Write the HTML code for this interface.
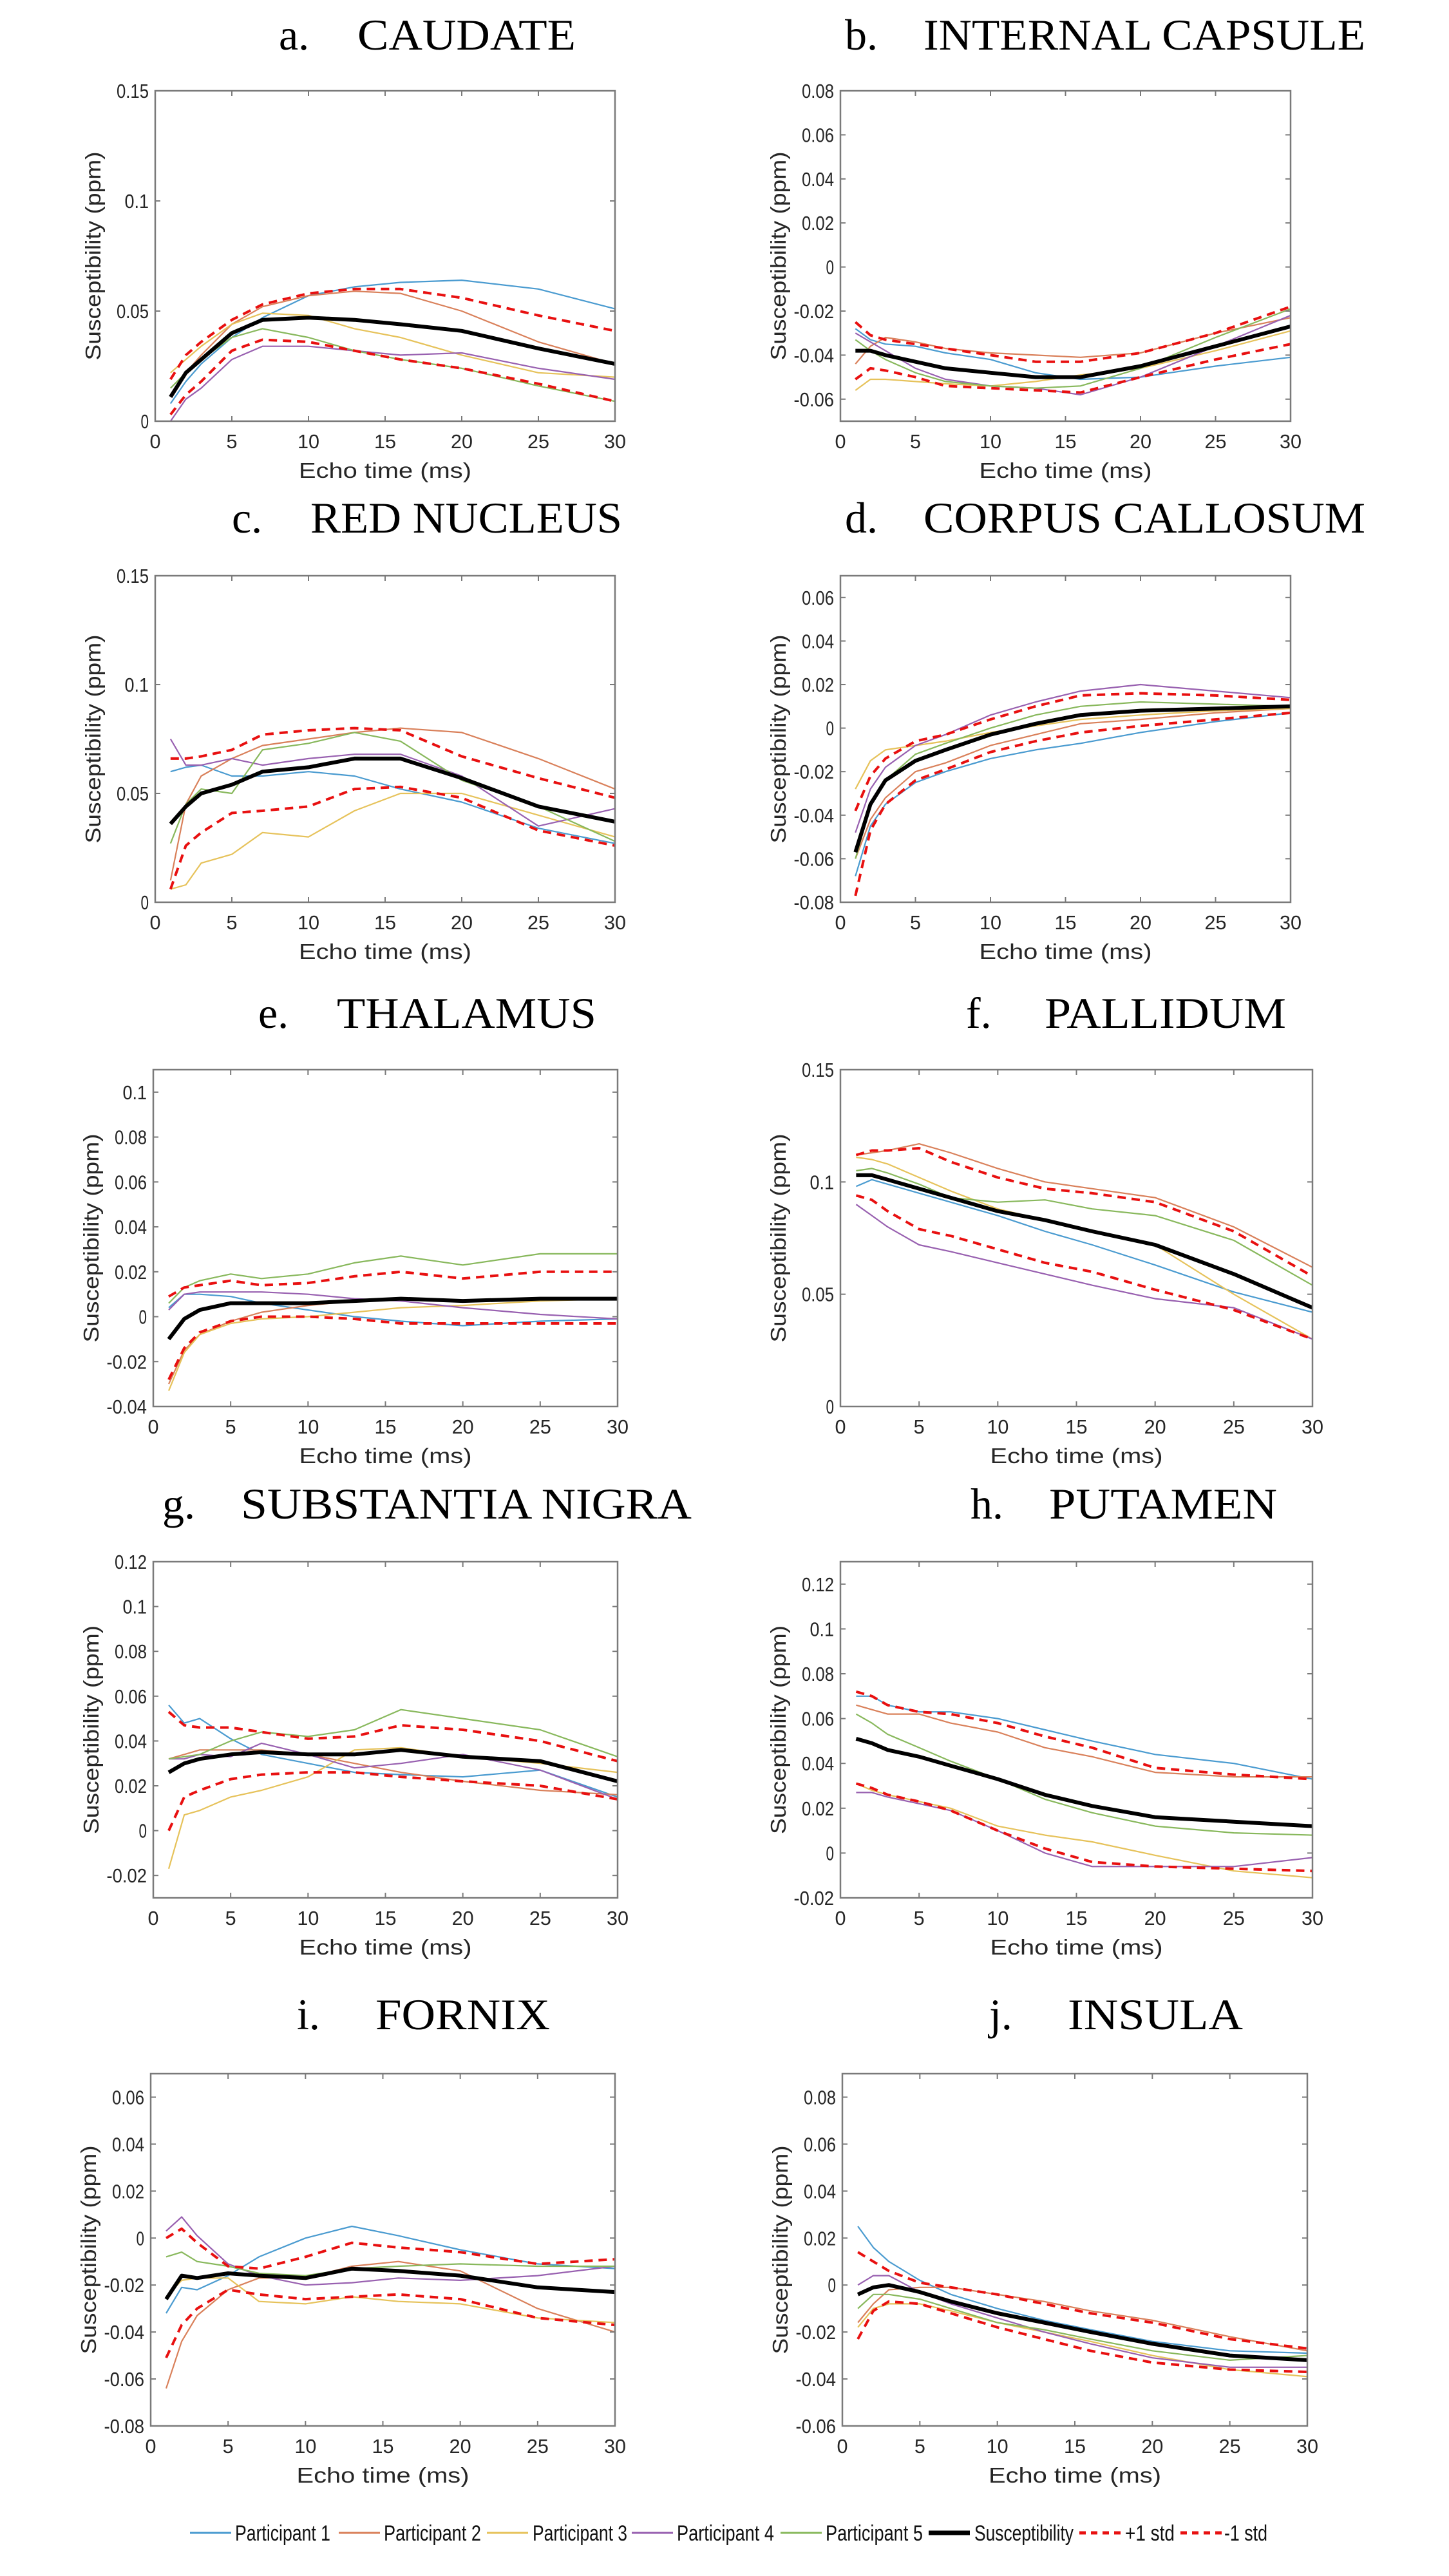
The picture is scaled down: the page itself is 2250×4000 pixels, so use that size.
<!DOCTYPE html>
<html><head><meta charset="utf-8"><style>
html,body{margin:0;padding:0;background:#fff;}
svg{display:block;}
</style></head><body>
<svg id="fig" xmlns="http://www.w3.org/2000/svg" width="2250" height="4000" viewBox="0 0 2250 4000">
<rect width="2250" height="4000" fill="#fff"/>
</svg>
<script>
// ---- shared data ----
const echoTimes = [1,2,3,5,7,10,13,16,20,25,30];
const xTicks = [0,5,10,15,20,25,30];
const seriesNames = ["Participant 1","Participant 2","Participant 3","Participant 4","Participant 5","Susceptibility","+1 std","-1 std"];

const caudateP1 = [0.008,0.018,0.026,0.038,0.047,0.057,0.061,0.063,0.064,0.060,0.051];
const caudateP2 = [0.012,0.022,0.030,0.044,0.052,0.057,0.059,0.058,0.050,0.036,0.026];
const caudateP3 = [0.022,0.028,0.034,0.044,0.049,0.048,0.042,0.038,0.030,0.022,0.020];
const caudateP4 = [0.000,0.010,0.015,0.028,0.034,0.034,0.032,0.030,0.031,0.024,0.019];
const caudateP5 = [0.015,0.022,0.028,0.038,0.042,0.038,0.032,0.028,0.024,0.016,0.009];
const caudateMean = [0.011,0.022,0.028,0.040,0.046,0.047,0.046,0.044,0.041,0.033,0.026];
const caudatePlus = [0.019,0.030,0.036,0.046,0.053,0.058,0.060,0.060,0.056,0.048,0.041];
const caudateMinus = [0.003,0.012,0.018,0.032,0.037,0.036,0.032,0.028,0.024,0.017,0.009];
const caudateTicks = [0,0.05,0.1,0.15];

const icP1 = [-0.028,-0.033,-0.035,-0.036,-0.039,-0.042,-0.048,-0.051,-0.050,-0.045,-0.041];
const icP2 = [-0.044,-0.036,-0.032,-0.034,-0.037,-0.039,-0.040,-0.041,-0.039,-0.030,-0.023];
const icP3 = [-0.056,-0.051,-0.051,-0.052,-0.053,-0.054,-0.052,-0.049,-0.046,-0.038,-0.029];
const icP4 = [-0.030,-0.034,-0.038,-0.046,-0.051,-0.054,-0.055,-0.058,-0.050,-0.036,-0.022];
const icP5 = [-0.033,-0.038,-0.042,-0.048,-0.052,-0.054,-0.055,-0.054,-0.046,-0.032,-0.019];
const icMean = [-0.038,-0.038,-0.040,-0.043,-0.046,-0.048,-0.050,-0.050,-0.045,-0.036,-0.027];
const icPlus = [-0.025,-0.031,-0.033,-0.035,-0.037,-0.040,-0.043,-0.043,-0.039,-0.030,-0.018];
const icMinus = [-0.051,-0.046,-0.047,-0.050,-0.054,-0.055,-0.056,-0.057,-0.050,-0.042,-0.035];
const icTicks = [-0.06,-0.04,-0.02,0,0.02,0.04,0.06,0.08];

const rnP1 = [0.060,0.062,0.063,0.058,0.058,0.060,0.058,0.052,0.046,0.034,0.027];
const rnP2 = [0.010,0.045,0.058,0.066,0.072,0.075,0.078,0.080,0.078,0.066,0.052];
const rnP3 = [0.006,0.008,0.018,0.022,0.032,0.030,0.042,0.050,0.050,0.040,0.030];
const rnP4 = [0.075,0.063,0.063,0.066,0.063,0.066,0.068,0.068,0.058,0.035,0.043];
const rnP5 = [0.027,0.045,0.052,0.050,0.070,0.073,0.078,0.074,0.056,0.044,0.028];
const rnMean = [0.036,0.044,0.050,0.054,0.060,0.062,0.066,0.066,0.057,0.044,0.037];
const rnPlus = [0.066,0.066,0.067,0.070,0.077,0.079,0.080,0.079,0.067,0.057,0.048];
const rnMinus = [0.006,0.026,0.032,0.041,0.042,0.044,0.052,0.053,0.048,0.033,0.026];
const rnTicks = [0,0.05,0.1,0.15];

const ccP1 = [-0.068,-0.045,-0.035,-0.025,-0.020,-0.014,-0.010,-0.007,-0.002,0.003,0.007];
const ccP2 = [-0.060,-0.042,-0.032,-0.020,-0.016,-0.008,-0.003,0.002,0.004,0.007,0.009];
const ccP3 = [-0.028,-0.015,-0.010,-0.008,-0.006,-0.002,0.001,0.004,0.006,0.008,0.009];
const ccP4 = [-0.048,-0.028,-0.018,-0.008,-0.003,0.006,0.012,0.017,0.020,0.017,0.014];
const ccP5 = [-0.060,-0.036,-0.024,-0.012,-0.007,0.000,0.006,0.010,0.012,0.011,0.010];
const ccMean = [-0.057,-0.035,-0.024,-0.015,-0.010,-0.003,0.002,0.006,0.008,0.009,0.010];
const ccPlus = [-0.038,-0.022,-0.014,-0.006,-0.003,0.004,0.010,0.015,0.016,0.015,0.013];
const ccMinus = [-0.077,-0.047,-0.035,-0.024,-0.019,-0.011,-0.006,-0.002,0.001,0.004,0.007];
const ccTicks = [-0.08,-0.06,-0.04,-0.02,0,0.02,0.04,0.06];

const thP1 = [0.004,0.010,0.010,0.009,0.006,0.003,0.000,-0.002,-0.004,-0.002,-0.001];
const thP2 = [-0.030,-0.015,-0.008,-0.002,0.002,0.005,0.007,0.008,0.007,0.008,0.008];
const thP3 = [-0.033,-0.016,-0.008,-0.003,-0.001,0.000,0.002,0.004,0.005,0.007,0.008];
const thP4 = [0.003,0.010,0.011,0.011,0.011,0.010,0.008,0.007,0.004,0.001,-0.001];
const thP5 = [0.006,0.013,0.016,0.019,0.017,0.019,0.024,0.027,0.023,0.028,0.028];
const thMean = [-0.010,-0.001,0.003,0.006,0.006,0.006,0.007,0.008,0.007,0.008,0.008];
const thPlus = [0.009,0.013,0.014,0.016,0.014,0.015,0.018,0.020,0.017,0.020,0.020];
const thMinus = [-0.028,-0.014,-0.007,-0.002,0.000,0.000,-0.001,-0.003,-0.003,-0.003,-0.003];
const thTicks = [-0.04,-0.02,0,0.02,0.04,0.06,0.08,0.1];

const paP1 = [0.098,0.101,0.099,0.095,0.091,0.085,0.078,0.072,0.063,0.051,0.042];
const paP2 = [0.112,0.113,0.114,0.117,0.113,0.106,0.100,0.097,0.093,0.080,0.062];
const paP3 = [0.111,0.110,0.108,0.102,0.096,0.088,0.083,0.078,0.072,0.050,0.030];
const paP4 = [0.090,0.085,0.080,0.072,0.069,0.064,0.059,0.054,0.048,0.044,0.030];
const paP5 = [0.105,0.106,0.104,0.099,0.093,0.091,0.092,0.088,0.085,0.074,0.054];
const paMean = [0.103,0.103,0.101,0.097,0.093,0.087,0.083,0.078,0.072,0.059,0.044];
const paPlus = [0.112,0.114,0.114,0.115,0.109,0.102,0.097,0.095,0.091,0.078,0.058];
const paMinus = [0.094,0.092,0.087,0.079,0.076,0.070,0.064,0.060,0.052,0.043,0.030];
const paTicks = [0,0.05,0.1,0.15];

const snP1 = [0.056,0.048,0.050,0.041,0.034,0.030,0.026,0.025,0.024,0.027,0.015];
const snP2 = [0.032,0.034,0.036,0.036,0.036,0.034,0.030,0.026,0.022,0.018,0.016];
const snP3 = [-0.017,0.007,0.009,0.015,0.018,0.024,0.036,0.037,0.033,0.030,0.026];
const snP4 = [0.032,0.032,0.034,0.033,0.039,0.034,0.028,0.030,0.034,0.027,0.014];
const snP5 = [0.032,0.033,0.034,0.040,0.044,0.042,0.045,0.054,0.050,0.045,0.033];
const snMean = [0.026,0.030,0.032,0.034,0.035,0.034,0.034,0.036,0.033,0.031,0.022];
const snPlus = [0.053,0.047,0.046,0.046,0.044,0.041,0.042,0.047,0.045,0.040,0.031];
const snMinus = [0.000,0.015,0.018,0.023,0.025,0.026,0.026,0.024,0.022,0.020,0.014];
const snTicks = [-0.02,0,0.02,0.04,0.06,0.08,0.1,0.12];

const puP1 = [0.070,0.070,0.066,0.063,0.063,0.060,0.055,0.050,0.044,0.040,0.033];
const puP2 = [0.066,0.064,0.062,0.062,0.058,0.054,0.047,0.043,0.036,0.034,0.034];
const puP3 = [0.031,0.028,0.026,0.023,0.020,0.012,0.008,0.005,-0.001,-0.008,-0.011];
const puP4 = [0.027,0.027,0.025,0.022,0.019,0.010,0.000,-0.006,-0.006,-0.006,-0.002];
const puP5 = [0.062,0.058,0.053,0.047,0.041,0.033,0.024,0.018,0.012,0.009,0.008];
const puMean = [0.051,0.049,0.046,0.043,0.039,0.033,0.026,0.021,0.016,0.014,0.012];
const puPlus = [0.072,0.070,0.066,0.063,0.062,0.058,0.052,0.047,0.038,0.035,0.033];
const puMinus = [0.031,0.029,0.026,0.023,0.019,0.010,0.002,-0.004,-0.006,-0.007,-0.008];
const puTicks = [-0.02,0,0.02,0.04,0.06,0.08,0.1,0.12];

const fxP1 = [-0.032,-0.021,-0.022,-0.016,-0.008,0.000,0.005,0.001,-0.005,-0.011,-0.013];
const fxP2 = [-0.064,-0.044,-0.033,-0.022,-0.017,-0.017,-0.012,-0.010,-0.014,-0.030,-0.040];
const fxP3 = [-0.025,-0.018,-0.017,-0.017,-0.027,-0.028,-0.025,-0.027,-0.028,-0.034,-0.036];
const fxP4 = [0.003,0.009,0.001,-0.011,-0.016,-0.020,-0.019,-0.017,-0.018,-0.016,-0.012];
const fxP5 = [-0.008,-0.006,-0.010,-0.012,-0.015,-0.016,-0.013,-0.012,-0.011,-0.012,-0.012];
const fxMean = [-0.026,-0.016,-0.017,-0.015,-0.016,-0.017,-0.013,-0.014,-0.016,-0.021,-0.023];
const fxPlus = [0.000,0.004,-0.002,-0.012,-0.013,-0.008,-0.002,-0.004,-0.006,-0.011,-0.009];
const fxMinus = [-0.051,-0.037,-0.030,-0.022,-0.024,-0.026,-0.025,-0.024,-0.026,-0.034,-0.037];
const fxTicks = [-0.08,-0.06,-0.04,-0.02,0,0.02,0.04,0.06];

const inP1 = [0.025,0.016,0.010,0.002,-0.004,-0.010,-0.015,-0.019,-0.024,-0.028,-0.029];
const inP2 = [-0.016,-0.008,-0.002,-0.001,-0.001,-0.004,-0.007,-0.011,-0.015,-0.022,-0.028];
const inP3 = [-0.018,-0.010,-0.008,-0.008,-0.011,-0.016,-0.020,-0.024,-0.030,-0.036,-0.039];
const inP4 = [0.000,0.004,0.004,-0.003,-0.008,-0.014,-0.020,-0.025,-0.031,-0.035,-0.035];
const inP5 = [-0.010,-0.004,-0.004,-0.006,-0.010,-0.016,-0.019,-0.023,-0.028,-0.032,-0.030];
const inMean = [-0.004,-0.001,0.000,-0.003,-0.007,-0.012,-0.016,-0.020,-0.025,-0.030,-0.032];
const inPlus = [0.014,0.010,0.006,0.001,-0.001,-0.004,-0.008,-0.012,-0.016,-0.023,-0.027];
const inMinus = [-0.023,-0.011,-0.007,-0.008,-0.012,-0.018,-0.023,-0.028,-0.033,-0.036,-0.037];
const inTicks = [-0.06,-0.04,-0.02,0,0.02,0.04,0.06,0.08];

// ---- layout (not data) ----
const NS = "http://www.w3.org/2000/svg";
const svg = document.getElementById("fig");
const styles = [
  {c:"#4a9bd0",w:2.2,d:null},{c:"#d9805a",w:2.2,d:null},{c:"#e6c25a",w:2.2,d:null},
  {c:"#9860b0",w:2.2,d:null},{c:"#88b85c",w:2.2,d:null},{c:"#000",w:6,d:null},
  {c:"#e81010",w:4,d:"13 9"},{c:"#e81010",w:4,d:"13 9"}];

const panels = [
 {key:"caudate",letter:"a.",name:"CAUDATE",tx:[433,894],tb:77,L:241,R:955,T:141,B:654,ymin:0,ymax:0.15,ticks:caudateTicks,series:[caudateP1,caudateP2,caudateP3,caudateP4,caudateP5,caudateMean,caudatePlus,caudateMinus]},
 {key:"internal-capsule",letter:"b.",name:"INTERNAL CAPSULE",tx:[1312,2120],tb:77,L:1305,R:2004,T:141,B:654,ymin:-0.07,ymax:0.08,ticks:icTicks,series:[icP1,icP2,icP3,icP4,icP5,icMean,icPlus,icMinus]},
 {key:"red-nucleus",letter:"c.",name:"RED NUCLEUS",tx:[360,966],tb:827,L:241,R:955,T:894,B:1401,ymin:0,ymax:0.15,ticks:rnTicks,series:[rnP1,rnP2,rnP3,rnP4,rnP5,rnMean,rnPlus,rnMinus]},
 {key:"corpus-callosum",letter:"d.",name:"CORPUS CALLOSUM",tx:[1312,2120],tb:827,L:1305,R:2004,T:894,B:1401,ymin:-0.08,ymax:0.07,ticks:ccTicks,series:[ccP1,ccP2,ccP3,ccP4,ccP5,ccMean,ccPlus,ccMinus]},
 {key:"thalamus",letter:"e.",name:"THALAMUS",tx:[401,926],tb:1596,L:238,R:959,T:1661,B:2184,ymin:-0.04,ymax:0.11,ticks:thTicks,series:[thP1,thP2,thP3,thP4,thP5,thMean,thPlus,thMinus]},
 {key:"pallidum",letter:"f.",name:"PALLIDUM",tx:[1500,1997],tb:1596,L:1305,R:2038,T:1661,B:2184,ymin:0,ymax:0.15,ticks:paTicks,series:[paP1,paP2,paP3,paP4,paP5,paMean,paPlus,paMinus]},
 {key:"substantia-nigra",letter:"g.",name:"SUBSTANTIA NIGRA",tx:[252,1074],tb:2358,L:238,R:959,T:2425,B:2947,ymin:-0.03,ymax:0.12,ticks:snTicks,series:[snP1,snP2,snP3,snP4,snP5,snMean,snPlus,snMinus]},
 {key:"putamen",letter:"h.",name:"PUTAMEN",tx:[1507,1983],tb:2358,L:1305,R:2038,T:2425,B:2947,ymin:-0.02,ymax:0.13,ticks:puTicks,series:[puP1,puP2,puP3,puP4,puP5,puMean,puPlus,puMinus]},
 {key:"fornix",letter:"i.",name:"FORNIX",tx:[461,854],tb:3151,L:234,R:955,T:3220,B:3767,ymin:-0.08,ymax:0.07,ticks:fxTicks,series:[fxP1,fxP2,fxP3,fxP4,fxP5,fxMean,fxPlus,fxMinus]},
 {key:"insula",letter:"j.",name:"INSULA",tx:[1536,1930],tb:3151,L:1308,R:2030,T:3220,B:3767,ymin:-0.06,ymax:0.09,ticks:inTicks,series:[inP1,inP2,inP3,inP4,inP5,inMean,inPlus,inMinus]}
];

function mk(tag, attrs, parent){
  const e = document.createElementNS(NS, tag);
  for (const k in attrs) e.setAttribute(k, attrs[k]);
  (parent||svg).appendChild(e);
  return e;
}
function fmt(v){ return String(Number(v.toFixed(2))); }

panels.forEach(p => {
  const g = mk("g", {});
  
  
  const xs = v => p.L + (v - 0) / 30 * (p.R - p.L);
  const ys = v => p.B - (v - p.ymin) / (p.ymax - p.ymin) * (p.B - p.T);

  // title
  const t1 = mk("text", {x:p.tx[0], y:p.tb, "font-family":"Liberation Serif, serif", "font-size":68, fill:"#000"}, g);
  t1.textContent = p.letter;
  
  
  const t2 = mk("text", {x:p.tx[0]+122, y:p.tb, "font-family":"Liberation Serif, serif", "font-size":68, fill:"#000", textLength:(p.tx[1]-p.tx[0]-122), lengthAdjust:"spacingAndGlyphs"}, g);
  t2.textContent = p.name;
  
  

  // series
  p.series.forEach((vals, si) => {
    const st = styles[si];
    const pts = vals.map((v, i) => xs(echoTimes[i]).toFixed(1) + "," + ys(v).toFixed(1)).join(" ");
    const pl = mk("polyline", {points:pts, fill:"none", stroke:st.c, "stroke-width":st.w, "stroke-linejoin":"round"}, g);
    if (st.d) pl.setAttribute("stroke-dasharray", st.d);
    
    
  });

  // axes box
  const box = mk("rect", {x:p.L, y:p.T, width:p.R-p.L, height:p.B-p.T, fill:"none", stroke:"#7a7a7a", "stroke-width":2.5}, g);
  
  

  // x ticks
  xTicks.forEach(v => {
    const x = xs(v);
    mk("line", {x1:x, x2:x, y1:p.B, y2:p.B-8, stroke:"#7a7a7a", "stroke-width":2}, g);
    mk("line", {x1:x, x2:x, y1:p.T, y2:p.T+8, stroke:"#7a7a7a", "stroke-width":2}, g);
    const tl = mk("text", {x:x, y:p.B+42, "text-anchor":"middle", "font-family":"Liberation Sans, sans-serif", "font-size":31, fill:"#262626", textLength:(v>=10?34:17), lengthAdjust:"spacingAndGlyphs"}, g);
    tl.textContent = String(v);
    
    
  });
  // y ticks
  p.ticks.forEach(v => {
    const y = ys(v);
    mk("line", {x1:p.L, x2:p.L+8, y1:y, y2:y, stroke:"#7a7a7a", "stroke-width":2}, g);
    mk("line", {x1:p.R, x2:p.R-8, y1:y, y2:y, stroke:"#7a7a7a", "stroke-width":2}, g);
    const s = fmt(v);
    const tl = mk("text", {x:p.L-10, y:y+11, "text-anchor":"end", "font-family":"Liberation Sans, sans-serif", "font-size":31, fill:"#262626", textLength:(s.length*12.5), lengthAdjust:"spacingAndGlyphs"}, g);
    tl.textContent = s;
    
    
  });
  // axis titles
  const xl = mk("text", {x:(p.L+p.R)/2, y:p.B+88, "text-anchor":"middle", "font-family":"Liberation Sans, sans-serif", "font-size":33, fill:"#262626", textLength:268, lengthAdjust:"spacingAndGlyphs"}, g);
  xl.textContent = "Echo time (ms)";
  
  
  const cy = (p.T+p.B)/2;
  const yl = mk("text", {x:0, y:0, transform:`translate(${p.L-85},${cy}) rotate(-90)`, "text-anchor":"middle", "font-family":"Liberation Sans, sans-serif", "font-size":33, fill:"#262626", textLength:324, lengthAdjust:"spacingAndGlyphs"}, g);
  yl.textContent = "Susceptibility (ppm)";
  
  
});

// legend
const legendLine = [[295,359],[526,590],[756,820],[981,1045],[1212,1276],[1442,1506],[1676,1742],[1833,1897]];
const legendText = [[365,513],[596,747],[827,974],[1051,1202],[1282,1433],[1513,1667],[1747,1824],[1901,1968]];
const lg = mk("g", {});


seriesNames.forEach((nm, i) => {
  const st = styles[i];
  const ly = 3933;
  const ln = mk("line", {x1:legendLine[i][0], x2:legendLine[i][1], y1:ly, y2:ly, stroke:st.c, "stroke-width": (i===5?7:(i>5?5:3))}, lg);
  if (st.d) ln.setAttribute("stroke-dasharray", "10 8");
  
  
  const tx = mk("text", {x:legendText[i][0], y:ly+12, "font-family":"Liberation Sans, sans-serif", "font-size":34, fill:"#111", textLength:(legendText[i][1]-legendText[i][0]), lengthAdjust:"spacingAndGlyphs"}, lg);
  tx.textContent = nm;
  
  
});
</script>
</body></html>
